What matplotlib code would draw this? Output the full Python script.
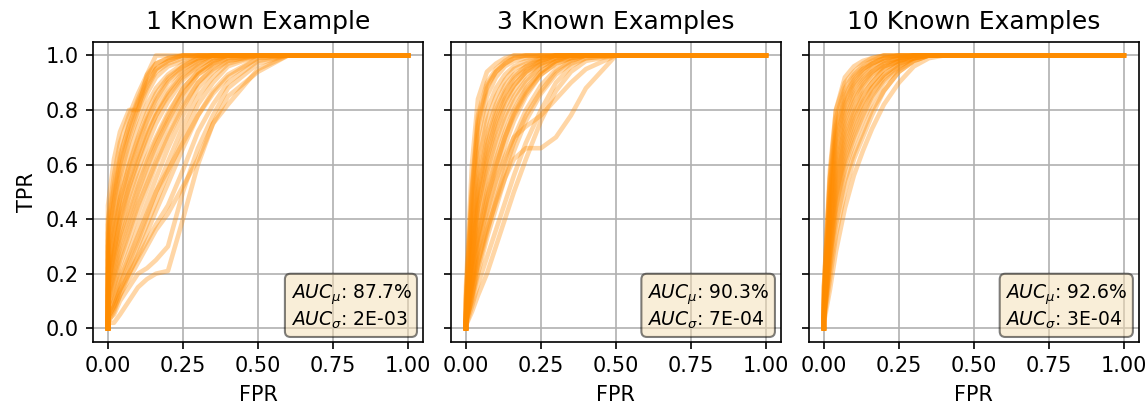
import matplotlib
matplotlib.use("Agg")
import matplotlib.pyplot as plt

titles = ["1 Known Example", "3 Known Examples", "10 Known Examples"]
auc_mu = ["87.7%", "90.3%", "92.6%"]
auc_sigma = ["2E-03", "7E-04", "3E-04"]

# shared FPR grid for the ROC curves
fpr_grid = [0.0, 0.0, 0.02, 0.04, 0.07, 0.1, 0.13, 0.16, 0.2, 0.25, 0.3, 0.35, 0.4, 0.5, 0.6, 1.0]

tpr_1known = [
    [0, .45, .62, .72, .80, .80, .93, 1, 1, 1, 1, 1, 1, 1, 1, 1],
    [0, .35, .50, .62, .75, .84, .92, .97, .99, 1, 1, 1, 1, 1, 1, 1],
    [0, .28, .42, .55, .68, .78, .86, .92, .96, .98, 1, 1, 1, 1, 1, 1],
    [0, .22, .36, .48, .60, .70, .79, .86, .92, .96, .99, 1, 1, 1, 1, 1],
    [0, .18, .30, .42, .54, .64, .73, .80, .87, .94, .98, 1, 1, 1, 1, 1],
    [0, .14, .26, .36, .48, .58, .67, .75, .83, .91, .96, .99, 1, 1, 1, 1],
    [0, .12, .22, .32, .42, .52, .61, .69, .78, .88, .94, .98, 1, 1, 1, 1],
    [0, .10, .18, .27, .37, .47, .56, .65, .75, .85, .93, .97, 1, 1, 1, 1],
    [0, .08, .15, .23, .32, .42, .51, .60, .70, .81, .90, .96, .99, 1, 1, 1],
    [0, .06, .12, .19, .28, .37, .46, .55, .66, .78, .88, .94, .98, 1, 1, 1],
    [0, .05, .10, .16, .24, .32, .41, .50, .61, .74, .85, .92, .97, 1, 1, 1],
    [0, .30, .46, .58, .70, .80, .88, .94, .97, .99, 1, 1, 1, 1, 1, 1],
    [0, .20, .33, .45, .57, .67, .76, .83, .90, .95, .98, 1, 1, 1, 1, 1],
    [0, .15, .28, .39, .51, .61, .70, .78, .86, .93, .97, 1, 1, 1, 1, 1],
    [0, .40, .56, .68, .78, .86, .93, .97, .99, 1, 1, 1, 1, 1, 1, 1],
    [0, .10, .20, .30, .40, .50, .59, .67, .76, .86, .93, .97, .99, 1, 1, 1],
    [0, .38, .52, .64, .74, .83, .90, .95, .98, 1, 1, 1, 1, 1, 1, 1],
    [0, .25, .40, .52, .64, .74, .82, .88, .93, .97, .99, 1, 1, 1, 1, 1],
    [0, .16, .28, .40, .52, .62, .71, .78, .85, .92, .96, .99, 1, 1, 1, 1],
    [0, .12, .24, .34, .45, .55, .63, .70, .79, .88, .94, .98, 1, 1, 1, 1],
    [0, .08, .16, .25, .35, .45, .53, .61, .71, .82, .90, .95, .98, 1, 1, 1],
    [0, .04, .08, .14, .22, .30, .38, .46, .57, .70, .82, .90, .96, 1, 1, 1],
    [0, .03, .07, .12, .20, .27, .35, .43, .53, .66, .78, .87, .93, .99, 1, 1],
    [0, .20, .35, .47, .59, .69, .77, .84, .91, .96, .99, 1, 1, 1, 1, 1],
    [0, .32, .48, .60, .72, .82, .89, .95, .98, 1, 1, 1, 1, 1, 1, 1],
    [0, .02, .02, .05, .10, .15, .18, .20, .21, .40, .60, .75, .82, .95, 1, 1],
    [0, .03, .05, .10, .15, .20, .22, .25, .30, .50, .66, .78, .88, .97, 1, 1],
    [0, .04, .08, .14, .20, .26, .32, .38, .45, .58, .72, .82, .90, .98, 1, 1],
    [0, .02, .06, .12, .18, .24, .30, .36, .42, .52, .62, .75, .85, .94, 1, 1],
    [0, .05, .10, .18, .26, .34, .42, .50, .58, .68, .78, .86, .92, .99, 1, 1],
]

tpr_3known = [
    [0, .15, .60, .84, .94, .97, .99, 1, 1, 1, 1, 1, 1, 1, 1, 1],
    [0, .10, .48, .74, .88, .94, .97, .99, 1, 1, 1, 1, 1, 1, 1, 1],
    [0, .08, .40, .64, .80, .88, .93, .96, .98, .99, 1, 1, 1, 1, 1, 1],
    [0, .06, .32, .55, .72, .82, .89, .93, .96, .98, 1, 1, 1, 1, 1, 1],
    [0, .05, .26, .47, .64, .76, .84, .89, .94, .97, .99, 1, 1, 1, 1, 1],
    [0, .04, .22, .40, .57, .69, .78, .85, .91, .96, .98, 1, 1, 1, 1, 1],
    [0, .03, .18, .34, .50, .62, .72, .80, .88, .94, .98, .99, 1, 1, 1, 1],
    [0, .03, .15, .29, .44, .56, .67, .76, .85, .93, .97, .99, 1, 1, 1, 1],
    [0, .02, .12, .24, .38, .50, .61, .70, .80, .89, .95, .98, 1, 1, 1, 1],
    [0, .02, .10, .20, .33, .44, .55, .65, .76, .86, .93, .97, .99, 1, 1, 1],
    [0, .12, .52, .78, .90, .95, .98, 1, 1, 1, 1, 1, 1, 1, 1, 1],
    [0, .07, .36, .60, .76, .85, .91, .95, .97, .99, 1, 1, 1, 1, 1, 1],
    [0, .05, .28, .50, .67, .78, .86, .91, .95, .98, 1, 1, 1, 1, 1, 1],
    [0, .04, .20, .37, .54, .66, .76, .83, .90, .96, .99, 1, 1, 1, 1, 1],
    [0, .03, .16, .31, .47, .59, .70, .79, .87, .94, .98, 1, 1, 1, 1, 1],
    [0, .09, .44, .70, .85, .92, .96, .98, .99, 1, 1, 1, 1, 1, 1, 1],
    [0, .06, .30, .52, .69, .80, .87, .92, .96, .99, 1, 1, 1, 1, 1, 1],
    [0, .04, .24, .44, .60, .72, .81, .87, .93, .97, .99, 1, 1, 1, 1, 1],
    [0, .03, .17, .33, .48, .60, .70, .78, .86, .93, .97, .99, 1, 1, 1, 1],
    [0, .02, .11, .22, .35, .47, .58, .68, .78, .87, .94, .98, 1, 1, 1, 1],
    [0, .11, .50, .76, .89, .94, .97, .99, 1, 1, 1, 1, 1, 1, 1, 1],
    [0, .05, .25, .45, .62, .74, .83, .89, .94, .98, 1, 1, 1, 1, 1, 1],
    [0, .01, .06, .12, .20, .30, .40, .50, .62, .76, .87, .94, .98, 1, 1, 1],
    [0, .01, .08, .16, .26, .36, .46, .56, .68, .80, .90, .96, .99, 1, 1, 1],
    [0, .02, .12, .24, .36, .46, .55, .62, .66, .66, .70, .78, .88, 1, 1, 1],
    [0, .03, .14, .28, .42, .54, .63, .70, .74, .78, .84, .90, .95, 1, 1, 1],
]

tpr_10known = [
    [0, .15, .55, .80, .92, .96, .98, .99, 1, 1, 1, 1, 1, 1, 1, 1],
    [0, .15, .58, .80, .90, .94, .97, .99, 1, 1, 1, 1, 1, 1, 1, 1],
    [0, .12, .52, .74, .86, .92, .95, .97, .99, 1, 1, 1, 1, 1, 1, 1],
    [0, .10, .46, .68, .82, .89, .93, .96, .98, .99, 1, 1, 1, 1, 1, 1],
    [0, .08, .42, .63, .78, .86, .91, .94, .97, .99, 1, 1, 1, 1, 1, 1],
    [0, .07, .38, .58, .74, .83, .89, .93, .96, .98, 1, 1, 1, 1, 1, 1],
    [0, .06, .34, .54, .70, .79, .86, .90, .95, .98, .99, 1, 1, 1, 1, 1],
    [0, .05, .30, .50, .66, .76, .83, .88, .93, .97, .99, 1, 1, 1, 1, 1],
    [0, .04, .27, .46, .62, .72, .80, .86, .92, .96, .99, 1, 1, 1, 1, 1],
    [0, .04, .24, .42, .58, .68, .76, .83, .90, .95, .98, 1, 1, 1, 1, 1],
    [0, .03, .22, .38, .54, .64, .72, .80, .87, .94, .98, 1, 1, 1, 1, 1],
    [0, .02, .14, .28, .44, .56, .65, .73, .82, .90, .96, .99, 1, 1, 1, 1],
    [0, .14, .55, .77, .88, .93, .96, .98, 1, 1, 1, 1, 1, 1, 1, 1],
    [0, .09, .44, .65, .80, .88, .92, .95, .98, .99, 1, 1, 1, 1, 1, 1],
    [0, .06, .36, .56, .72, .81, .88, .92, .96, .98, 1, 1, 1, 1, 1, 1],
    [0, .04, .28, .48, .64, .74, .82, .88, .93, .97, .99, 1, 1, 1, 1, 1],
    [0, .11, .50, .72, .85, .91, .95, .97, .99, 1, 1, 1, 1, 1, 1, 1],
    [0, .07, .40, .60, .76, .85, .90, .94, .97, .99, 1, 1, 1, 1, 1, 1],
    [0, .05, .32, .52, .68, .78, .85, .90, .95, .98, 1, 1, 1, 1, 1, 1],
    [0, .03, .25, .44, .60, .70, .78, .85, .91, .96, .99, 1, 1, 1, 1, 1],
    [0, .03, .18, .34, .50, .62, .70, .78, .87, .94, .98, 1, 1, 1, 1, 1],
    [0, .09, .47, .70, .83, .90, .94, .97, .99, 1, 1, 1, 1, 1, 1, 1],
]

all_tpr = [tpr_1known, tpr_3known, tpr_10known]

DPI = 150
fig, axes = plt.subplots(1, 3, figsize=(1148 / DPI, 406 / DPI), dpi=DPI, sharey=True)
fig.subplots_adjust(left=0.081, right=0.992, bottom=0.158, top=0.897, wspace=0.085)

for ax, title, curves, mu, sig in zip(axes, titles, all_tpr, auc_mu, auc_sigma):
    for tpr in curves:
        ax.plot(fpr_grid, tpr, color="darkorange", alpha=0.35, lw=2.2)
    ax.set_title(title, fontsize=12)
    ax.set_xlabel("FPR")
    ax.grid(True)
    ax.set_xticks([0, 0.25, 0.5, 0.75, 1.0])
    ax.set_xticklabels(["0.00", "0.25", "0.50", "0.75", "1.00"])
    ax.text(0.965, 0.035, "$AUC_\\mu$: " + mu + "\n$AUC_\\sigma$: " + sig,
            transform=ax.transAxes, ha="right", va="bottom", fontsize=9,
            multialignment="left",
            bbox=dict(boxstyle="round", facecolor="wheat", alpha=0.5))

axes[0].set_ylabel("TPR")
axes[0].set_yticks([0, 0.2, 0.4, 0.6, 0.8, 1.0])
axes[0].set_ylim(-0.05, 1.05)
for ax in axes:
    ax.set_xlim(-0.05, 1.05)

fig.savefig("out.png", dpi=DPI)
